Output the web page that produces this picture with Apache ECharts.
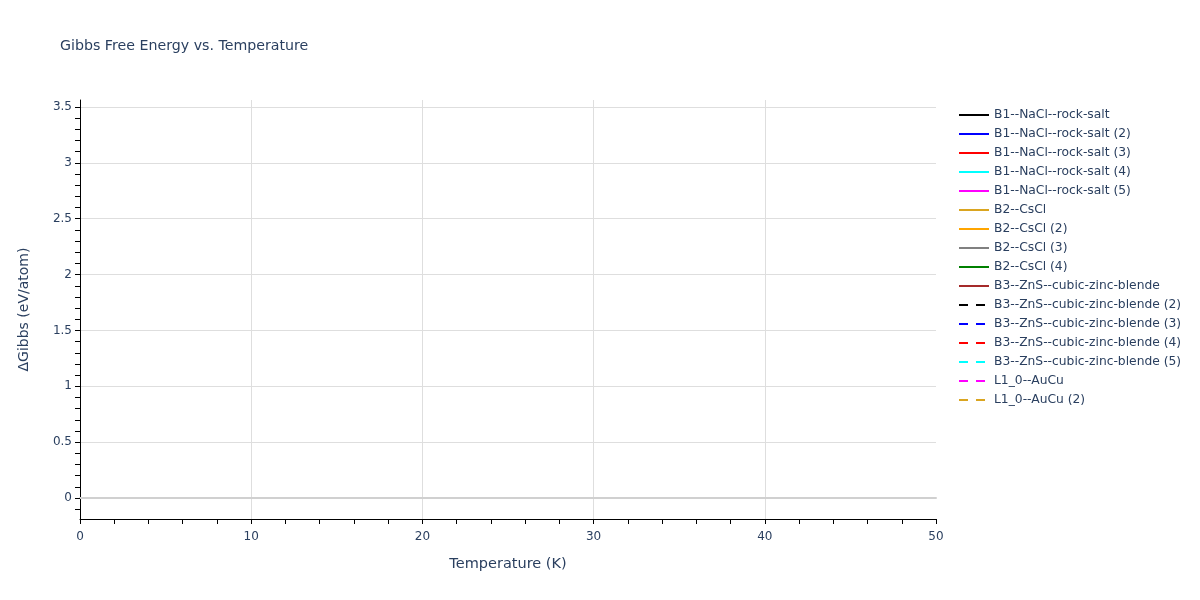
<!DOCTYPE html>
<html>
<head>
<meta charset="utf-8">
<script src="https://cdn.jsdelivr.net/npm/echarts@6/dist/echarts.min.js"></script>
<style>html,body{margin:0;padding:0;background:#fff}#c{width:1200px;height:600px}</style>
</head>
<body>
<div id="c"></div>
<script>
// Data (no points visible inside the shown window)
const seriesNames = [
  'B1--NaCl--rock-salt', 'B1--NaCl--rock-salt (2)', 'B1--NaCl--rock-salt (3)',
  'B1--NaCl--rock-salt (4)', 'B1--NaCl--rock-salt (5)',
  'B2--CsCl', 'B2--CsCl (2)', 'B2--CsCl (3)', 'B2--CsCl (4)',
  'B3--ZnS--cubic-zinc-blende', 'B3--ZnS--cubic-zinc-blende (2)', 'B3--ZnS--cubic-zinc-blende (3)',
  'B3--ZnS--cubic-zinc-blende (4)', 'B3--ZnS--cubic-zinc-blende (5)',
  'L1_0--AuCu', 'L1_0--AuCu (2)'
];
const seriesColors = ['#000000','#0000ff','#ff0000','#00ffff','#ff00ff',
  '#daa520','#ffa500','#808080','#008000','#a52a2a',
  '#000000','#0000ff','#ff0000','#00ffff','#ff00ff','#daa520'];
const seriesDash = ['solid','solid','solid','solid','solid','solid','solid','solid','solid','solid',
  'dash','dash','dash','dash','dash','dash'];
const seriesValues = seriesNames.map(() => []); // [temperature, dG] pairs – none in view

const xRange = [0, 50];
const yRange = [-0.188, 3.563];
const yTicks = [0, 0.5, 1, 1.5, 2, 2.5, 3, 3.5];
const yMinorTicks = [-0.1, 0.1, 0.2, 0.3, 0.4, 0.6, 0.7, 0.8, 0.9, 1.1, 1.2, 1.3, 1.4,
  1.6, 1.7, 1.8, 1.9, 2.1, 2.2, 2.3, 2.4, 2.6, 2.7, 2.8, 2.9, 3.1, 3.2, 3.3, 3.4];

const FONT = 'DejaVu Sans';
const TXT = '#2a3f5f';
const GRID = '#dedede';

const chart = echarts.init(document.getElementById('c'), null, {renderer: 'canvas'});
chart.setOption({
  animation: false,
  backgroundColor: '#fff',
  textStyle: {fontFamily: FONT},
  title: {
    text: 'Gibbs Free Energy vs. Temperature',
    left: 55, top: 34,
    textStyle: {fontFamily: FONT, fontSize: 14.2, fontWeight: 'normal', color: TXT}
  },
  grid: {left: 80, right: 264, top: 100, bottom: 81, containLabel: false},
  legend: {
    orient: 'vertical', left: 953, top: 104,
    itemWidth: 30, itemHeight: 14, itemGap: 7,
    textStyle: {fontFamily: FONT, fontSize: 12.3, color: TXT},
    itemStyle: {opacity: 0},
    lineStyle: {width: 2},
    data: seriesNames
  },
  xAxis: [{
    type: 'value', min: xRange[0], max: xRange[1], interval: 10,
    name: 'Temperature (K)', nameLocation: 'middle', nameGap: 38,
    nameTextStyle: {fontFamily: FONT, fontSize: 14.5, color: TXT},
    axisLine: {onZero: false, lineStyle: {color: '#000', width: 1}},
    axisTick: {show: true, length: 5, lineStyle: {color: '#000'}},
    minorTick: {show: true, splitNumber: 5, length: 5, lineStyle: {color: '#000'}},
    axisLabel: {fontFamily: FONT, fontSize: 12, color: TXT, margin: 12},
    splitLine: {show: true, showMinLine: false, showMaxLine: false, lineStyle: {color: GRID, width: 1}}
  }, {
    type: 'value', min: xRange[0], max: xRange[1],
    axisLine: {show: true, onZero: true, lineStyle: {color: '#d0d0d0', width: 2}},
    axisTick: {show: false}, axisLabel: {show: false}, splitLine: {show: false}
  }],
  yAxis: [{
    type: 'value', min: yRange[0], max: yRange[1],
    name: 'ΔGibbs (eV/atom)', nameLocation: 'middle', nameGap: 49, nameRotate: 90,
    nameTextStyle: {fontFamily: FONT, fontSize: 14, color: TXT},
    axisLine: {show: true, onZero: false, lineStyle: {color: '#000', width: 1}},
    axisTick: {show: true, length: 5, customValues: yTicks, lineStyle: {color: '#000'}},
    axisLabel: {fontFamily: FONT, fontSize: 12, color: TXT, margin: 8, customValues: yTicks},
    splitLine: {show: true, lineStyle: {color: GRID, width: 1}}
  }, {
    type: 'value', min: yRange[0], max: yRange[1], position: 'left',
    axisLine: {show: false, onZero: false},
    axisTick: {show: true, length: 5, customValues: yMinorTicks, lineStyle: {color: '#000'}},
    axisLabel: {show: false}, splitLine: {show: false}
  }],
  series: seriesNames.map((name, i) => ({
    name: name, type: 'line', xAxisIndex: 0, yAxisIndex: 0,
    data: seriesValues[i], symbol: 'none', showSymbol: false,
    lineStyle: {color: seriesColors[i], width: 2, type: seriesDash[i] === 'dash' ? [9, 8] : 'solid'},
    itemStyle: {color: seriesColors[i]}
  }))
});
</script>
</body>
</html>
